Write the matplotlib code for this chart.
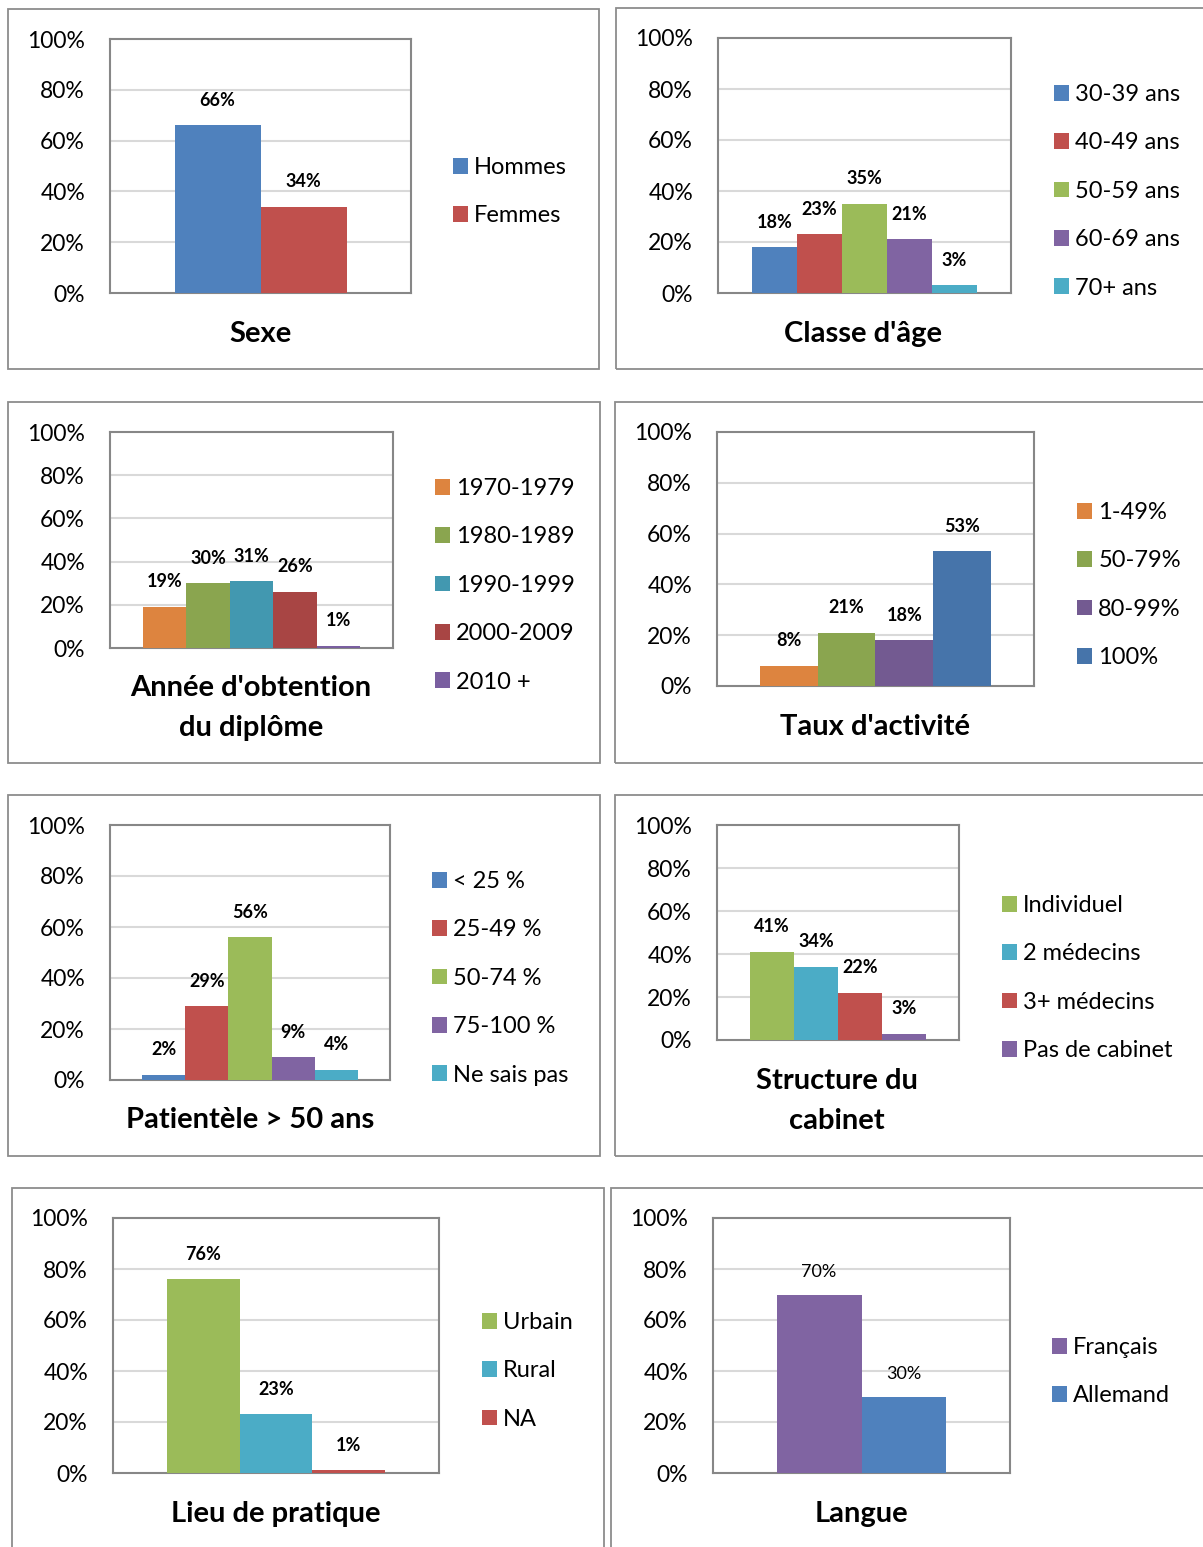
import matplotlib
matplotlib.use("Agg")
import matplotlib.pyplot as plt
from matplotlib.patches import Rectangle, Patch

plt.rcParams['font.family'] = ['Lato', 'DejaVu Sans']

# data (percent)
sexe_labels = ["Hommes", "Femmes"]
sexe_values = [66, 34]

age_labels = ["30-39 ans", "40-49 ans", "50-59 ans", "60-69 ans", "70+ ans"]
age_values = [18, 23, 35, 21, 3]

diplome_labels = ["1970-1979", "1980-1989", "1990-1999", "2000-2009", "2010 +"]
diplome_values = [19, 30, 31, 26, 1]

activite_labels = ["1-49%", "50-79%", "80-99%", "100%"]
activite_values = [8, 21, 18, 53]

patient_labels = ["< 25 %", "25-49 %", "50-74 %", "75-100 %", "Ne sais pas"]
patient_values = [2, 29, 56, 9, 4]

cabinet_labels = ["Individuel", "2 médecins", "3+ médecins", "Pas de cabinet"]
cabinet_values = [41, 34, 22, 3]

lieu_labels = ["Urbain", "Rural", "NA"]
lieu_values = [76, 23, 1]

langue_labels = ["Français", "Allemand"]
langue_values = [70, 30]

yticks = [0, 20, 40, 60, 80, 100]

BLUE, RED, GREEN, PURPLE, CYAN = '#4F81BD', '#C0504D', '#9BBB59', '#8064A2', '#4BACC6'

W, H = 1203, 1547
fig = plt.figure(figsize=(W / 100, H / 100), dpi=100)

# each panel: frame box, axes box, legend (x, first y), title (x, y) in pixels
panels = [
    dict(title="Sexe", labels=sexe_labels, values=sexe_values,
         colors=[BLUE, RED],
         frame=(8, 9, 599, 369), ax=(110, 39, 411, 293),
         leg=(453, 165), tpos=(260, 334)),
    dict(title="Classe d'âge", labels=age_labels, values=age_values,
         colors=[BLUE, RED, GREEN, PURPLE, CYAN],
         frame=(616, 8, 1215, 369), ax=(718, 38, 1011, 293),
         leg=(1054, 92), tpos=(863, 334)),
    dict(title="Année d'obtention\ndu diplôme", labels=diplome_labels, values=diplome_values,
         colors=['#DD843F', '#8AA54F', '#4298B0', '#A84544', '#7A5FA0'],
         frame=(8, 402, 600, 763), ax=(110, 432, 393, 648),
         leg=(435, 486), tpos=(251, 708)),
    dict(title="Taux d'activité", labels=activite_labels, values=activite_values,
         colors=['#DD843F', '#8AA54F', '#735A91', '#4674AA'],
         frame=(615, 402, 1215, 763), ax=(717, 432, 1034, 686),
         leg=(1077, 510), tpos=(875, 727)),
    dict(title="Patientèle > 50 ans", labels=patient_labels, values=patient_values,
         colors=[BLUE, RED, GREEN, PURPLE, CYAN],
         frame=(8, 795, 600, 1156), ax=(110, 825, 390, 1080),
         leg=(432, 879), tpos=(250, 1120)),
    dict(title="Structure du\ncabinet", labels=cabinet_labels, values=cabinet_values,
         colors=[GREEN, CYAN, RED, PURPLE],
         frame=(615, 795, 1215, 1156), ax=(717, 825, 959, 1040),
         leg=(1002, 903), tpos=(837, 1101)),
    dict(title="Lieu de pratique", labels=lieu_labels, values=lieu_values,
         colors=[GREEN, CYAN, RED],
         frame=(12, 1188, 604, 1560), ax=(113, 1218, 439, 1473),
         leg=(482, 1320), tpos=(276, 1514)),
    dict(title="Langue", labels=langue_labels, values=langue_values,
         colors=[PURPLE, BLUE],
         frame=(611, 1188, 1215, 1560), ax=(713, 1218, 1010, 1473),
         leg=(1052, 1345), tpos=(861, 1514), bold_labels=False),
]

for p in panels:
    fx0, fy0, fx1, fy1 = p['frame']
    fig.patches.append(Rectangle((fx0 / W, 1 - fy1 / H), (fx1 - fx0) / W, (fy1 - fy0) / H,
                                 transform=fig.transFigure, fill=False,
                                 edgecolor='#8c8c8c', linewidth=1.3))

    x0, y0, x1, y1 = p['ax']
    ax = fig.add_axes([x0 / W, 1 - y1 / H, (x1 - x0) / W, (y1 - y0) / H])
    n = len(p['values'])
    xs = list(range(n))
    ax.bar(xs, p['values'], width=1.0, color=p['colors'], zorder=3)
    ax.set_xlim(-1.25, n + 0.25)
    ax.set_ylim(0, 100)
    ax.set_yticks(yticks)
    ax.set_yticklabels([f"{t}%" for t in yticks], fontsize=16.5)
    ax.tick_params(axis='y', length=0, pad=18)
    ax.set_xticks([])
    for t in yticks[1:-1]:
        ax.axhline(t, color='#d9d9d9', linewidth=1.5, zorder=1)
    for s in ax.spines.values():
        s.set_color('#878787')
        s.set_linewidth(1.5)

    bold = p.get('bold_labels', True)
    for x, v in zip(xs, p['values']):
        ax.annotate(f"{v}%", (x, v), xytext=(0, 18 if bold else 16),
                    textcoords='offset points', ha='center', va='center',
                    fontsize=13, fontweight='bold' if bold else 'normal',
                    zorder=4)

    handles = [Patch(facecolor=c, edgecolor='none') for c in p['colors']]
    lx, ly = p['leg']
    fig.legend(handles, p['labels'], loc='upper left',
               bbox_to_anchor=(lx / W, 1 - (ly - 8) / H),
               frameon=False, fontsize=17, borderpad=0, borderaxespad=0,
               handlelength=0.65, handleheight=0.65, handletextpad=0.25,
               labelspacing=1.16)

    tx, ty = p['tpos']
    fig.text(tx / W, 1 - ty / H, p['title'], ha='center', va='center',
             fontsize=21, fontweight='bold', linespacing=1.65)

fig.savefig("out.png", dpi=100)
